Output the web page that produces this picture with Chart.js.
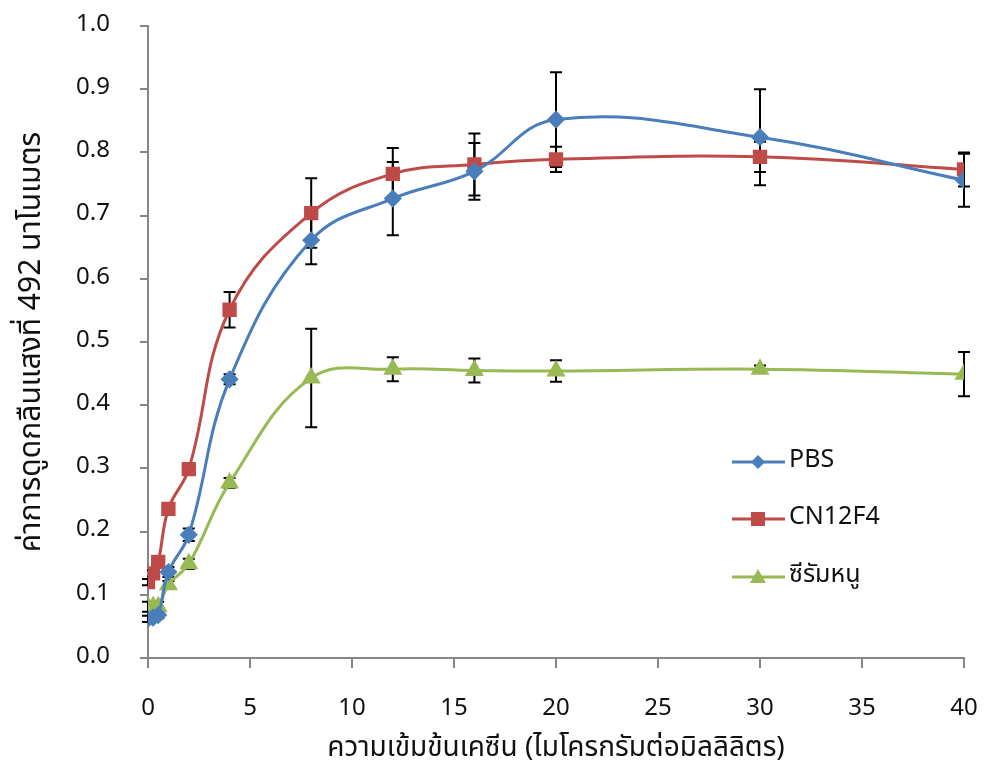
<!DOCTYPE html>
<html>
<head>
<meta charset="utf-8">
<script src="https://cdn.jsdelivr.net/npm/chart.js@4"></script>
<style>
  html, body { margin: 0; padding: 0; background: #fff; }
  #wrap { width: 984px; height: 764px; }
</style>
</head>
<body>
<div id="wrap"><canvas id="chart"></canvas></div>
<script>
// ── DATA ──────────────────────────────────
const concentrations = [0, 0.25, 0.5, 1, 2, 4, 8, 12, 16, 20, 30, 40];

const pbsValues   = [0.062, 0.064, 0.068, 0.136, 0.195, 0.441, 0.661, 0.727, 0.770, 0.852, 0.824, 0.756];
const pbsErrors   = [0.005, 0.005, 0.005, 0.008, 0.010, 0.008, 0.038, 0.058, 0.045, 0.075, 0.076, 0.042];

const cn12Values  = [0.120, 0.134, 0.152, 0.236, 0.299, 0.551, 0.704, 0.766, 0.781, 0.789, 0.793, 0.773];
const cn12Errors  = [0.005, 0.005, 0.005, 0.006, 0.006, 0.028, 0.055, 0.041, 0.049, 0.020, 0.024, 0.027];

const serumValues = [0.081, 0.081, 0.081, 0.116, 0.149, 0.277, 0.443, 0.457, 0.455, 0.454, 0.457, 0.449];
const serumErrors = [0.008, 0.008, 0.008, 0.006, 0.008, 0.008, 0.078, 0.019, 0.019, 0.017, 0.006, 0.035];

const seriesLabels = ['PBS', 'CN12F4', 'ซีรัมหนู'];
const xTicks = [0, 5, 10, 15, 20, 25, 30, 35, 40];
const yTicks = [0, 0.1, 0.2, 0.3, 0.4, 0.5, 0.6, 0.7, 0.8, 0.9, 1.0];

const FONT = 'Tahoma, "Noto Sans Thai", "Noto Sans", "DejaVu Sans", sans-serif';

function toPoints(vals) {
  return vals.map((v, i) => ({ x: concentrations[i], y: v }));
}

// ── ERROR BARS ────────────────────────────
const errorBars = {
  id: 'errorBars',
  beforeDatasetsDraw(chart) {
    const { ctx, scales: { x, y } } = chart;
    ctx.save();
    ctx.strokeStyle = '#000';
    ctx.lineWidth = 2;
    chart.data.datasets.forEach((ds) => {
      ds.data.forEach((p, i) => {
        const e = ds.errors[i];
        const px = x.getPixelForValue(p.x);
        const top = y.getPixelForValue(p.y + e);
        const bot = y.getPixelForValue(p.y - e);
        ctx.beginPath();
        ctx.moveTo(px, top); ctx.lineTo(px, bot);
        ctx.moveTo(px - 6, top); ctx.lineTo(px + 6, top);
        ctx.moveTo(px - 6, bot); ctx.lineTo(px + 6, bot);
        ctx.stroke();
      });
    });
    ctx.restore();
  }
};

// ── LEGEND (inside plot) ─────────────────
const innerLegend = {
  id: 'innerLegend',
  afterDraw(chart) {
    const { ctx } = chart;
    const rows = [462, 519, 577];
    ctx.save();
    chart.data.datasets.forEach((ds, i) => {
      const yy = rows[i];
      ctx.strokeStyle = ds.borderColor;
      ctx.lineWidth = 3;
      ctx.beginPath();
      ctx.moveTo(732, yy); ctx.lineTo(785, yy);
      ctx.stroke();
      ctx.fillStyle = ds.backgroundColor;
      ctx.beginPath();
      if (ds.pointStyle === 'rectRot') {
        ctx.moveTo(758, yy - 7); ctx.lineTo(765, yy); ctx.lineTo(758, yy + 7); ctx.lineTo(751, yy);
      } else if (ds.pointStyle === 'rect') {
        ctx.rect(751, yy - 7, 14, 14);
      } else {
        ctx.moveTo(758, yy - 8); ctx.lineTo(766, yy + 6); ctx.lineTo(750, yy + 6);
      }
      ctx.closePath();
      ctx.fill();
      ctx.fillStyle = '#111';
      ctx.font = '25px ' + FONT;
      ctx.textBaseline = 'middle';
      ctx.textAlign = 'left';
      ctx.fillText(ds.label, 789, yy);
    });
    ctx.restore();
  }
};

const mkSet = (label, vals, errs, color, style, radius) => ({
  label,
  data: toPoints(vals),
  errors: errs,
  borderColor: color,
  backgroundColor: color,
  borderWidth: 3,
  pointStyle: style,
  pointRadius: radius,
  pointHoverRadius: radius,
  tension: 0.4,
  fill: false
});

new Chart(document.getElementById('chart'), {
  type: 'line',
  data: {
    datasets: [
      mkSet(seriesLabels[0], pbsValues, pbsErrors, '#4A7EBB', 'rectRot', 7),
      mkSet(seriesLabels[1], cn12Values, cn12Errors, '#BE4B48', 'rect', 8),
      mkSet(seriesLabels[2], serumValues, serumErrors, '#98B954', 'triangle', 8)
    ]
  },
  options: {
    responsive: true,
    maintainAspectRatio: false,
    animation: false,
    layout: { autoPadding: false, padding: { top: 26, right: 20, left: 0, bottom: 0 } },
    plugins: {
      legend: { display: false },
      tooltip: { enabled: false }
    },
    scales: {
      x: {
        type: 'linear',
        min: 0, max: 40,
        afterBuildTicks: (s) => { s.ticks = xTicks.map(v => ({ value: v })); },
        afterFit: (s) => { s.height = 106; s.paddingLeft = 0; s.paddingRight = 0; },
        grid: { drawOnChartArea: false, color: '#868686', tickLength: 10, lineWidth: 2 },
        border: { color: '#868686', width: 2 },
        ticks: { color: '#111', font: { family: FONT, size: 24 }, padding: 28 },
        title: {
          display: true,
          text: 'ความเข้มข้นเคซีน (ไมโครกรัมต่อมิลลิลิตร)',
          color: '#111',
          font: { family: FONT, size: 28 },
          padding: { top: 0, bottom: -3 }
        }
      },
      y: {
        type: 'linear',
        min: 0, max: 1.0,
        afterBuildTicks: (s) => { s.ticks = yTicks.map(v => ({ value: v })); },
        afterFit: (s) => { s.width = 148; s.paddingTop = 0; s.paddingBottom = 0; },
        grid: { drawOnChartArea: false, color: '#868686', tickLength: 8, lineWidth: 2 },
        border: { color: '#868686', width: 2 },
        ticks: {
          color: '#111',
          font: { family: FONT, size: 24 },
          padding: 30,
          callback: (v) => v.toFixed(1)
        },
        title: {
          display: true,
          text: 'ค่าการดูดกลืนแสงที่ 492 นาโนเมตร',
          color: '#111',
          font: { family: FONT, size: 30 },
          padding: { top: 16, bottom: 0 }
        }
      }
    }
  },
  plugins: [errorBars, innerLegend]
});
</script>
</body>
</html>
